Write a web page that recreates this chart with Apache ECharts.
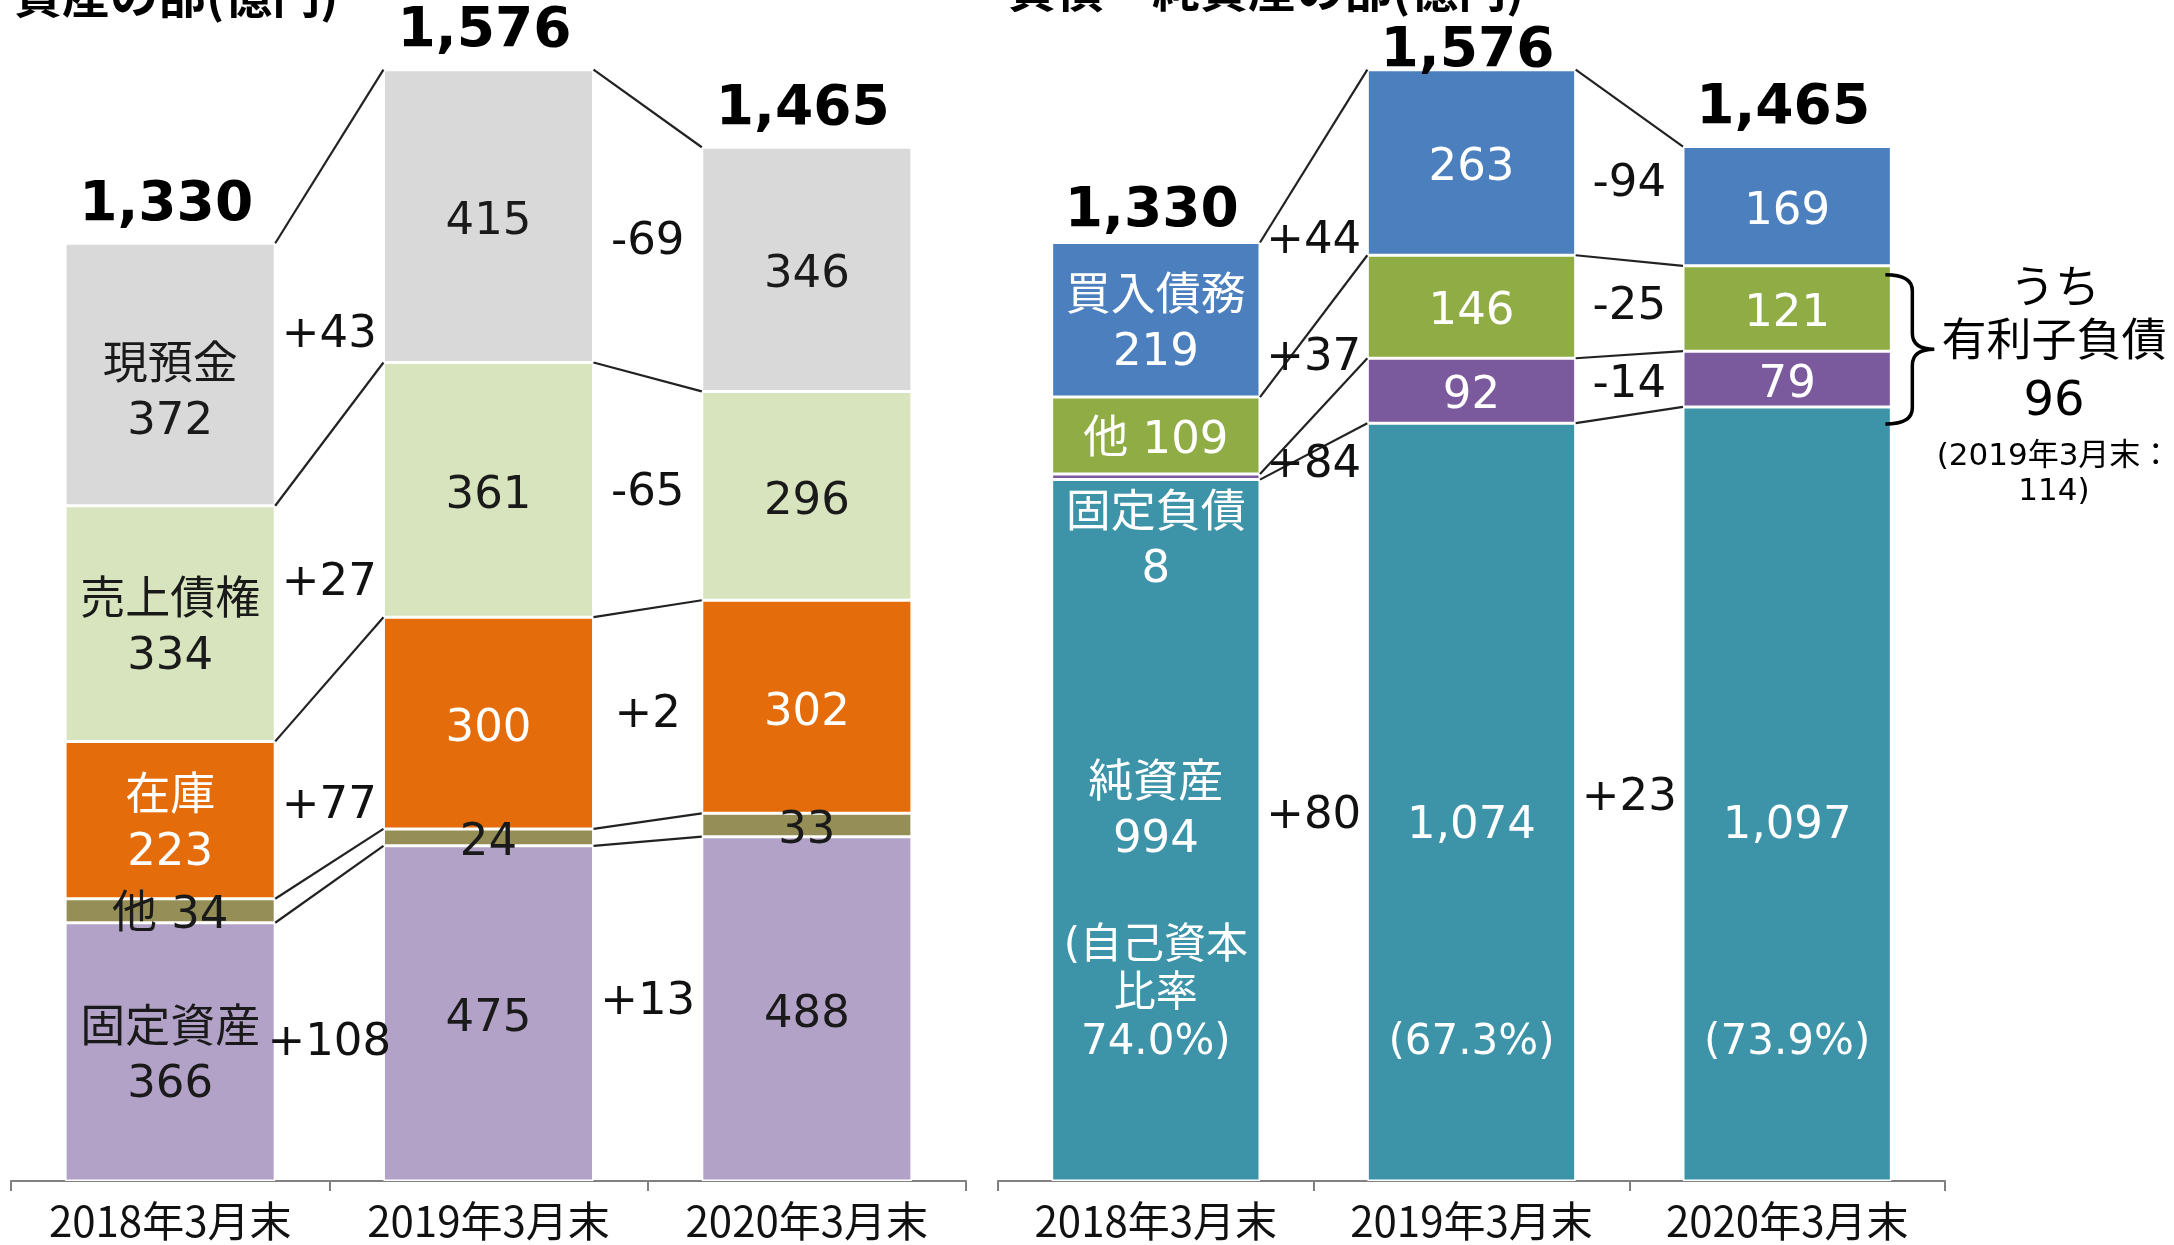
<!DOCTYPE html>
<html><head><meta charset="utf-8">
<script src="https://cdn.jsdelivr.net/npm/echarts@6/dist/echarts.min.js"></script>
<style>html,body{margin:0;padding:0;background:#fff}#c{width:2174px;height:1245px}</style>
</head><body><div id="c"></div>
<script>
// ---------------- DATA ----------------
const categories = ['2018年3月末', '2019年3月末', '2020年3月末'];

// 資産の部 (bottom -> top)
const fixedAssets = [366, 475, 488];      // 固定資産
const otherAssets = [34, 24, 33];         // 他
const inventory   = [223, 300, 302];      // 在庫
const receivables = [334, 361, 296];      // 売上債権
const cash        = [372, 415, 346];      // 現預金
const assetTotals = [1330, 1576, 1465];

const fixedAssetsDiff = ['+108', '+13'];
const inventoryDiff   = ['+77', '+2'];
const receivablesDiff = ['+27', '-65'];
const cashDiff        = ['+43', '-69'];

// 負債・純資産の部 (bottom -> top)
const netAssets  = [994, 1074, 1097];     // 純資産
const fixedLiab  = [8, 92, 79];           // 固定負債
const otherLiab  = [109, 146, 121];       // 他
const payables   = [219, 263, 169];       // 買入債務
const liabTotals = [1330, 1576, 1465];
const equityRatio = ['74.0%', '67.3%', '73.9%'];

const netAssetsDiff = ['+80', '+23'];
const fixedLiabDiff = ['+84', '-14'];
const otherLiabDiff = ['+37', '-25'];
const payablesDiff  = ['+44', '-94'];

const interestDebt = 96;
const interestDebtPrev = 114;

// ---------------- STYLE ----------------
const NUM_FONT = '"DejaVu Sans", "Noto Sans CJK JP", sans-serif';
const CJK_FONT = '"Noto Sans CJK JP", sans-serif';
const fmt = v => Number(v).toLocaleString('en-US');
const DARK = '#1a1a1a';

const assetSegs = [
  {name: '固定資産', data: fixedAssets, color: '#b3a2c7', text: DARK, first: v => '固定資産\n' + v, diff: fixedAssetsDiff, diffDy: [11, -9]},
  {name: '他', data: otherAssets, color: '#958f57', text: DARK, first: v => '他 ' + v, diff: [null, null]},
  {name: '在庫', data: inventory, color: '#e46c0a', text: '#ffffff', first: v => '在庫\n' + v, diff: inventoryDiff, diffDy: [35, 0]},
  {name: '売上債権', data: receivables, color: '#d7e4bd', text: DARK, first: v => '売上債権\n' + v, diff: receivablesDiff, diffDy: [27, 0]},
  {name: '現預金', data: cash, color: '#d9d9d9', text: DARK, first: v => '現預金\n' + v, diff: cashDiff, diffDy: [40, 0],
    firstLabel: {offset: [0, 20]}}
];
const liabSegs = [
  {name: '純資産', data: netAssets, color: '#3d94a9', text: '#ffffff', diff: netAssetsDiff, diffDy: [0, 0], netAssets: true},
  {name: '固定負債', data: fixedLiab, color: '#7a5a9c', text: '#ffffff', first: v => '固定負債\n' + v, diff: fixedLiabDiff, diffDy: [32, 0],
    firstLabel: {position: 'bottom', distance: 8, offset: [0, 0]}},
  {name: '他', data: otherLiab, color: '#8fac45', text: '#ffffff', first: v => '他 ' + v, diff: otherLiabDiff, diffDy: [-13, 0]},
  {name: '買入債務', data: payables, color: '#4b7fbe', text: '#ffffff', first: v => '買入債務\n' + v, diff: payablesDiff, diffDy: [0, 0]}
];
const assetTotalDy = [0, 0, 0];
const liabTotalDy = [7, 20, 0];

function cumTops(segs) {
  const tops = segs.map(() => []);
  for (let j = 0; j < categories.length; j++) {
    let s = 0;
    segs.forEach((seg, k) => { s += seg.data[j]; tops[k][j] = s; });
  }
  return tops;
}

const BAR_FRAC = 0.66;

function barSeries(seg, idx) {
  const base = {
    type: 'bar', name: seg.name, stack: 'S' + idx, xAxisIndex: idx, yAxisIndex: idx,
    barWidth: (BAR_FRAC * 100) + '%', silent: true, animation: false,
    itemStyle: {color: seg.color, borderColor: '#ffffff', borderWidth: 1.5},
  };
  if (seg.netAssets) {
    base.data = seg.data.slice();
    base.label = {
      show: true, position: 'insideBottom', distance: 114,
      formatter: p => {
        const j = p.dataIndex;
        if (j === 0) return '{a|純資産}\n{a|' + fmt(p.value) + '}\n{a| }\n{b|(自己資本}\n{b|比率}\n{b|' + equityRatio[j] + ')}';
        return '{a|' + fmt(p.value) + '}\n{a| }\n{a| }\n{a| }\n{b|(' + equityRatio[j] + ')}';
      },
      rich: {
        a: {fontFamily: NUM_FONT, fontSize: 45, lineHeight: 55, color: '#fff'},
        b: {fontFamily: NUM_FONT, fontSize: 42, lineHeight: 48, color: '#fff'}
      }
    };
  } else {
    base.data = seg.data.map((v, j) => (j === 0 && seg.firstLabel) ? {value: v, label: seg.firstLabel} : v);
    base.label = {
      show: true, position: 'inside', offset: [0, 6], color: seg.text, fontFamily: NUM_FONT, fontSize: 45, lineHeight: 55,
      formatter: p => p.dataIndex === 0 ? seg.first(fmt(p.value)) : fmt(p.value)
    };
  }
  return base;
}

function connectorSeries(segs, idx) {
  const tops = cumTops(segs);
  const items = [];
  for (let g = 0; g < categories.length - 1; g++) {
    tops.forEach(t => items.push([g, t[g], t[g + 1]]));
  }
  return {
    type: 'custom', xAxisIndex: idx, yAxisIndex: idx, data: items, silent: true, z: 4, animation: false,
    encode: {x: 0, y: [1, 2]},
    renderItem(params, api) {
      const g = api.value(0);
      const p1 = api.coord([g, api.value(1)]);
      const p2 = api.coord([g + 1, api.value(2)]);
      const half = api.size([1, 0])[0] * BAR_FRAC / 2;
      return {type: 'line', shape: {x1: p1[0] + half, y1: p1[1], x2: p2[0] - half, y2: p2[1]},
        style: {stroke: '#222', lineWidth: 2.2}};
    }
  };
}

function diffSeries(segs, idx) {
  const tops = cumTops(segs);
  const items = [], texts = [], dys = [];
  segs.forEach((seg, k) => {
    for (let g = 0; g < categories.length - 1; g++) {
      if (!seg.diff[g]) continue;
      const midL = tops[k][g] - seg.data[g] / 2;
      const midR = tops[k][g + 1] - seg.data[g + 1] / 2;
      items.push([g, (midL + midR) / 2]);
      texts.push(seg.diff[g]);
      dys.push(seg.diffDy ? seg.diffDy[g] : 0);
    }
  });
  return {
    type: 'custom', xAxisIndex: idx, yAxisIndex: idx, data: items, silent: true, z: 6, animation: false,
    encode: {x: 0, y: 1},
    renderItem(params, api) {
      const g = api.value(0);
      const a = api.coord([g, api.value(1)]);
      const b = api.coord([g + 1, api.value(1)]);
      return {type: 'text', x: (a[0] + b[0]) / 2, y: a[1] + dys[params.dataIndex],
        style: {text: texts[params.dataIndex], fill: '#111', fontFamily: NUM_FONT, fontSize: 45,
          align: 'center', verticalAlign: 'middle'}};
    }
  };
}

function totalSeries(segs, totals, dy, idx) {
  const tops = cumTops(segs);
  const items = totals.map((t, j) => [j, tops[tops.length - 1][j]]);
  return {
    type: 'custom', xAxisIndex: idx, yAxisIndex: idx, data: items, silent: true, z: 6, animation: false,
    encode: {x: 0, y: 1},
    renderItem(params, api) {
      const p = api.coord([api.value(0), api.value(1)]);
      return {type: 'text', x: p[0] - 4, y: p[1] - 10 + dy[params.dataIndex],
        style: {text: fmt(totals[params.dataIndex]), fill: '#000', fontFamily: '"DejaVu Sans", sans-serif',
          fontWeight: 'bold', fontSize: 55, align: 'center', verticalAlign: 'bottom'}};
    }
  };
}

// Brace spanning the 2020 他 + 固定負債 segments (interest-bearing debt)
function braceSeries(segs, idx) {
  const tops = cumTops(segs);
  const j = categories.length - 1;
  return {
    type: 'custom', xAxisIndex: idx, yAxisIndex: idx, data: [[j, tops[2][j], tops[0][j]]], silent: true, z: 6, animation: false,
    encode: {x: 0, y: [1, 2]},
    renderItem(params, api) {
      const pT = api.coord([api.value(0), api.value(1)]);
      const pB = api.coord([api.value(0), api.value(2)]);
      const edge = pT[0] + api.size([1, 0])[0] * BAR_FRAC / 2;
      const bx0 = edge - 6, bx1 = edge + 21, bx2 = edge + 43;
      const yT = pT[1] + 9, yB = pB[1] + 17;
      const bm = (yT + yB) / 2, r = 16;
      const d = `M ${bx0} ${yT} Q ${bx1} ${yT} ${bx1} ${yT + r} L ${bx1} ${bm - r} Q ${bx1} ${bm} ${bx2} ${bm} ` +
        `Q ${bx1} ${bm} ${bx1} ${bm + r} L ${bx1} ${yB - r} Q ${bx1} ${yB} ${bx0} ${yB}`;
      return {type: 'path', shape: {pathData: d}, style: {stroke: '#000', lineWidth: 3.5, fill: null}};
    }
  };
}

const axisCommon = {
  type: 'category', data: categories, boundaryGap: true,
  axisLine: {lineStyle: {color: '#808080', width: 2}},
  axisTick: {show: true, length: 10, lineStyle: {color: '#808080', width: 2}},
  axisLabel: {fontFamily: CJK_FONT, fontSize: 42, color: '#111', margin: 19},
  splitLine: {show: false}
};

const chart = echarts.init(document.getElementById('c'), null, {renderer: 'canvas'});
chart.setOption({
  backgroundColor: '#ffffff',
  animation: false,
  grid: [
    {left: 11, width: 955, top: 52, bottom: 64},
    {left: 998, width: 947, top: 52, bottom: 64}
  ],
  xAxis: [Object.assign({gridIndex: 0}, axisCommon), Object.assign({gridIndex: 1}, axisCommon)],
  yAxis: [
    {gridIndex: 0, type: 'value', min: 0, max: 1600, show: false},
    {gridIndex: 1, type: 'value', min: 0, max: 1600, show: false}
  ],
  series: [
    ...assetSegs.map(s => barSeries(s, 0)),
    ...liabSegs.map(s => barSeries(s, 1)),
    connectorSeries(assetSegs, 0),
    connectorSeries(liabSegs, 1),
    diffSeries(assetSegs, 0),
    diffSeries(liabSegs, 1),
    totalSeries(assetSegs, assetTotals, assetTotalDy, 0),
    totalSeries(liabSegs, liabTotals, liabTotalDy, 1),
    braceSeries(liabSegs, 1)
  ],
  graphic: [
    {type: 'text', x: 14, y: -29, silent: true,
      style: {text: '資産の部(億円)', fontFamily: CJK_FONT, fontWeight: 'bold', fontSize: 48, fill: '#000'}},
    {type: 'text', x: 1008, y: -35, silent: true,
      style: {text: '負債・純資産の部(億円)', fontFamily: CJK_FONT, fontWeight: 'bold', fontSize: 48, fill: '#000'}},
    {type: 'text', x: 2055, y: 286, silent: true,
      style: {text: 'うち', fontFamily: CJK_FONT, fontSize: 45, fill: '#000', align: 'center', verticalAlign: 'middle'}},
    {type: 'text', x: 2054, y: 339, silent: true,
      style: {text: '有利子負債', fontFamily: CJK_FONT, fontSize: 45, fill: '#000', align: 'center', verticalAlign: 'middle'}},
    {type: 'text', x: 2054, y: 403, silent: true,
      style: {text: String(interestDebt), fontFamily: NUM_FONT, fontSize: 48, fill: '#000', align: 'center', verticalAlign: 'middle'}},
    {type: 'text', x: 2054, y: 457, silent: true,
      style: {text: '(2019年3月末：', fontFamily: NUM_FONT, fontSize: 31, fill: '#000', align: 'center', verticalAlign: 'middle'}},
    {type: 'text', x: 2054, y: 492, silent: true,
      style: {text: interestDebtPrev + ')', fontFamily: NUM_FONT, fontSize: 31, fill: '#000', align: 'center', verticalAlign: 'middle'}}
  ]
});
</script>
</body></html>
